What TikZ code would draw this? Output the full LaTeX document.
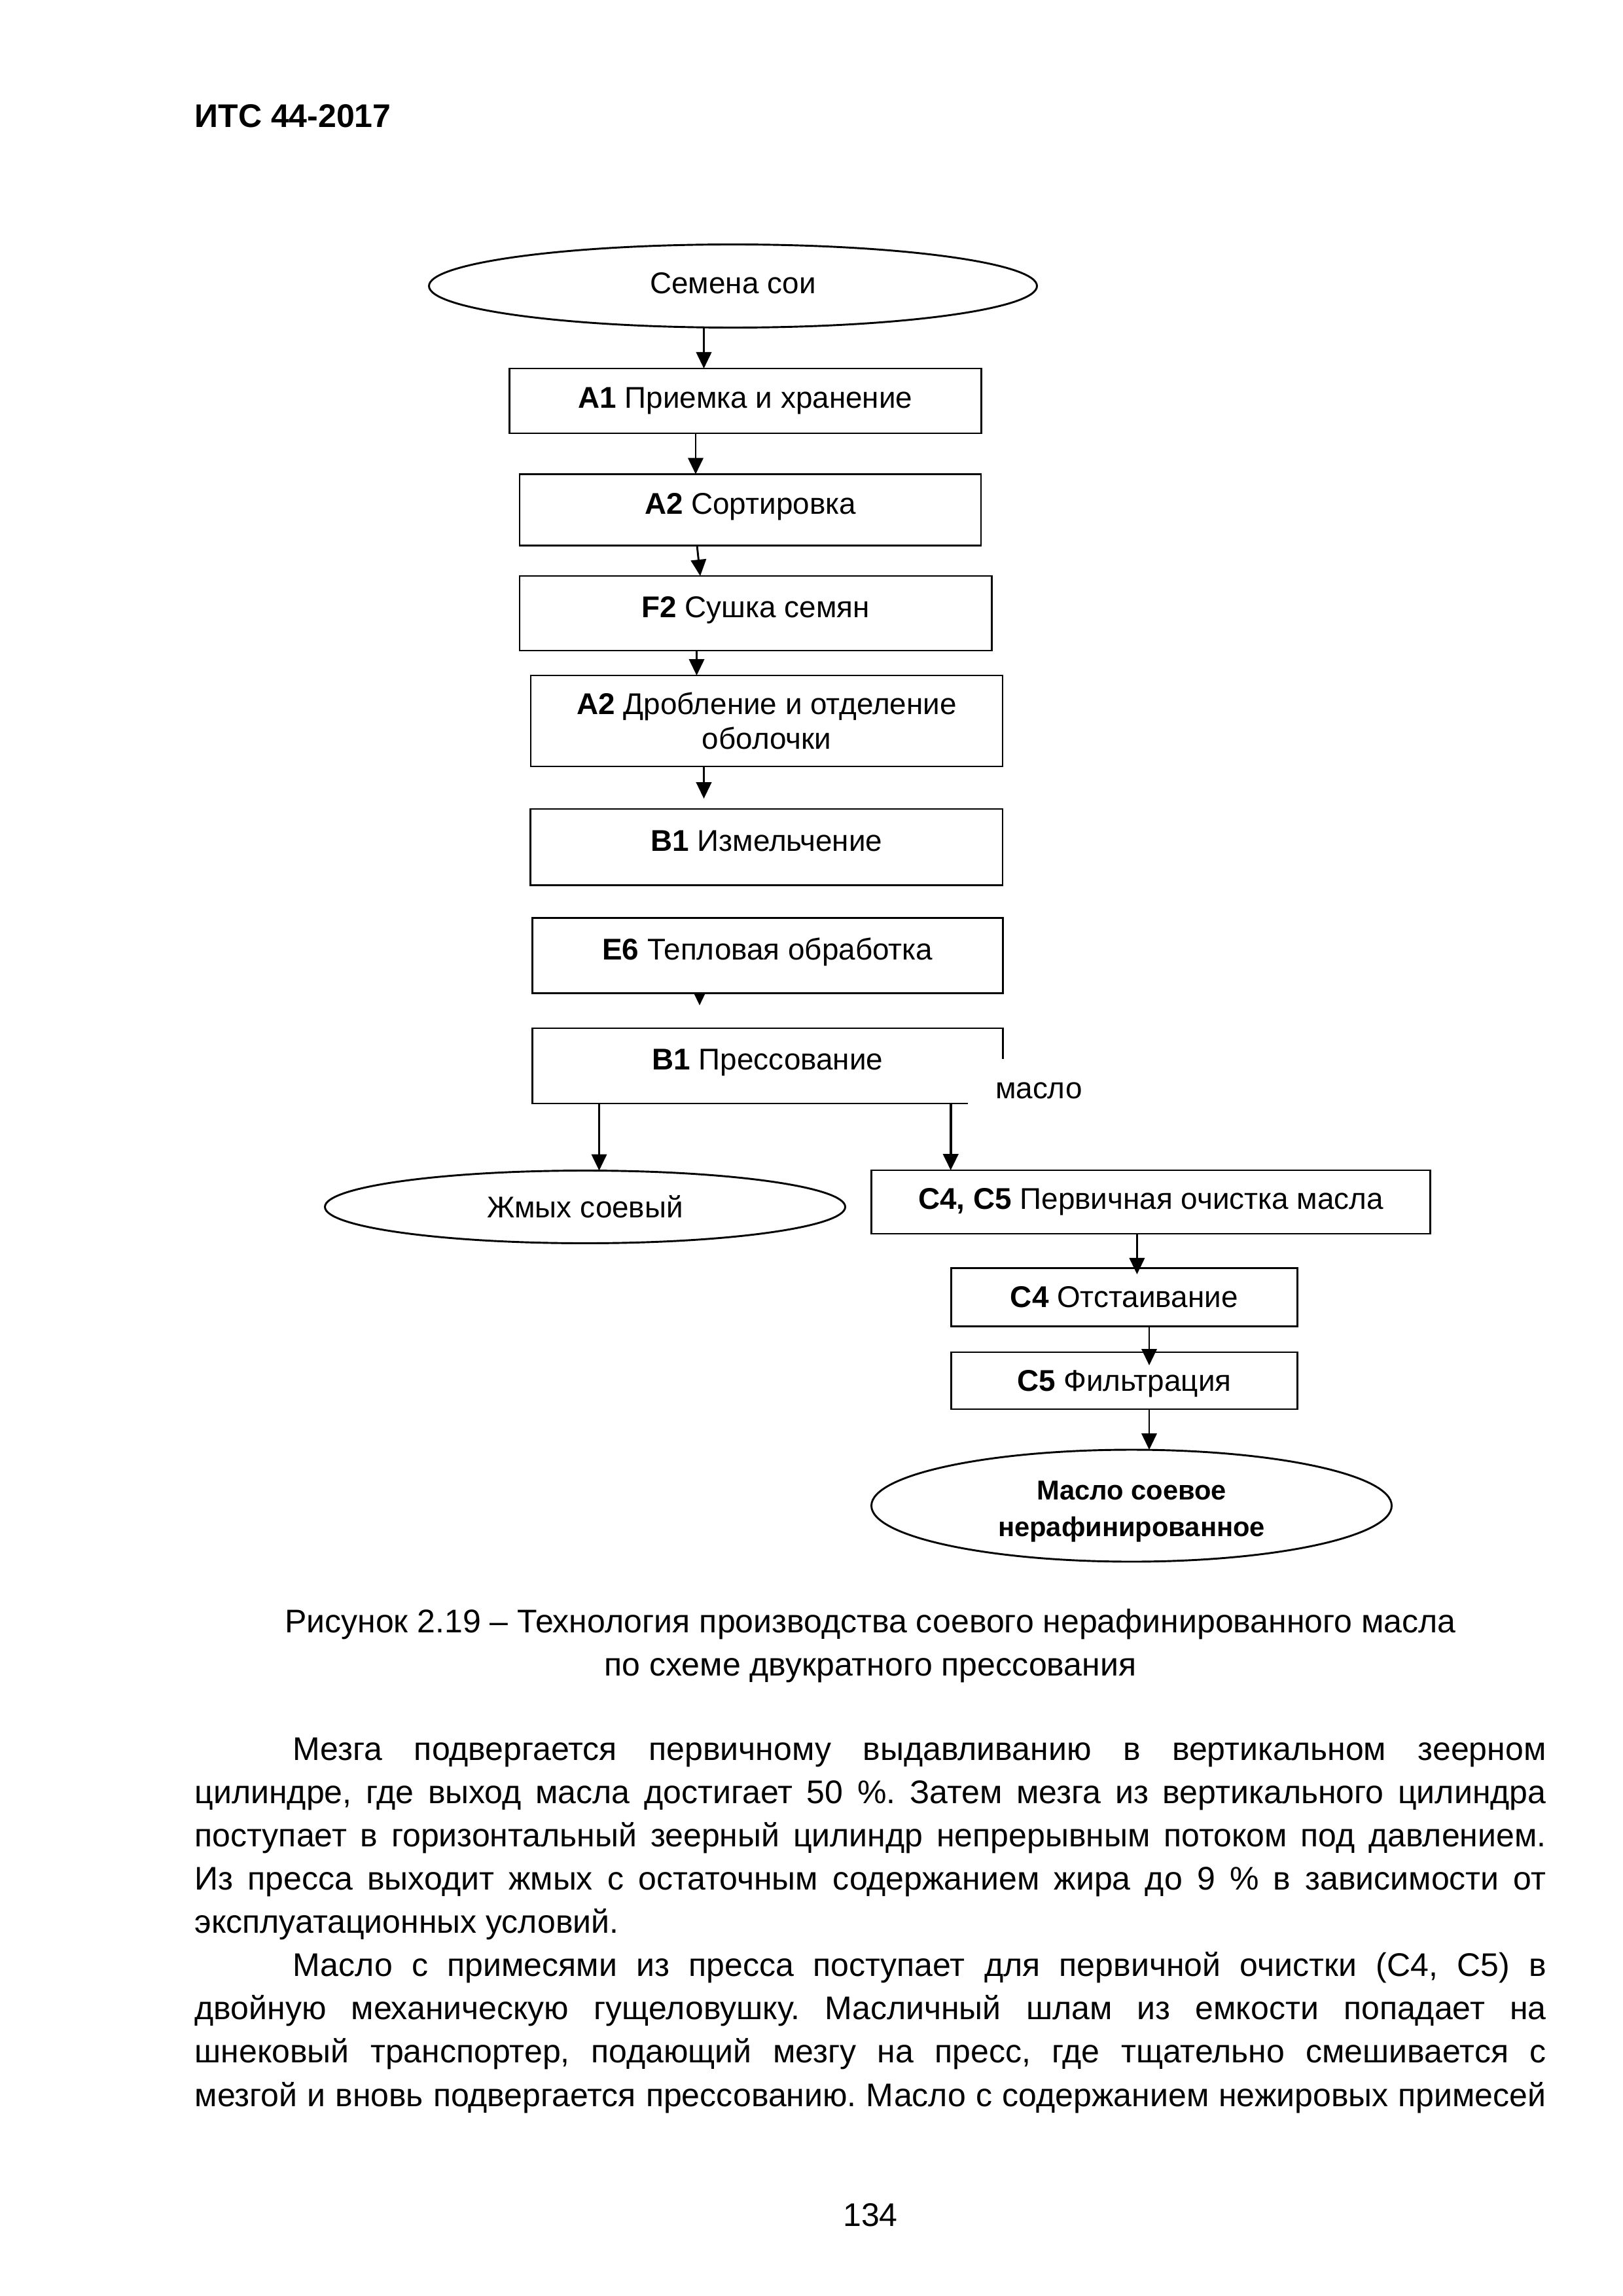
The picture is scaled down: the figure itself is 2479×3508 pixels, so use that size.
\documentclass[tikz,border=0pt]{standalone}
\usepackage{fontspec}
\setmainfont{Liberation Sans}
\usetikzlibrary{shapes.geometric,arrows.meta,calc}
\begin{document}
\begin{tikzpicture}[x=0.24pt,y=-0.24pt,
  every node/.style={inner sep=0pt, outer sep=0pt},
  sz/.style 2 args={minimum width=#1*0.24pt, minimum height=#2*0.24pt},
  proc/.style={draw, line width=0.7pt, rectangle, font=\fontsize{11}{12.65}\selectfont, align=center},
  upper/.style={text height=8pt, text depth=5pt},
  term/.style={draw, line width=0.7pt, ellipse, font=\fontsize{11}{12.65}\selectfont, align=center},
  arr/.style={line width=0.7pt, -{Triangle[length=6pt,width=5.6pt]}},
  stub/.style={line width=0.7pt, -{Triangle[length=4.4pt,width=4pt]}},
  txt/.style={font=\fontsize{12}{15.87}\selectfont},
]
\fill[white] (0,0) rectangle (2479,3508);
\useasboundingbox (0,0) rectangle (2479,3508);

% header
\node[txt, anchor=base west, font=\fontsize{12}{14}\selectfont\bfseries] (hdr) at (297.6,195) {ИТС 44-2017};

% flowchart
\node[term, sz={929}{127}, text height=7.9pt, text depth=2.4pt] (seeds) at (1120,437) {Семена сои};
\node[proc, sz={720.5}{99}] (a1) at (1138.8,612.5) {\textbf{A1} Приемка и хранение};
\node[proc, upper, sz={705}{108.5}] (a2s) at (1146.5,778.8) {\textbf{A2} Сортировка};
\node[proc, upper, sz={721.6}{114}] (f2) at (1154.8,937) {\textbf{F2} Сушка семян};
\node[proc, sz={721}{139}] (a2b) at (1171.5,1101.5) {\textbf{A2} Дробление и отделение\\оболочки};
\node[proc, upper, sz={721.4}{116.6}] (b1i) at (1171.3,1294.3) {\textbf{B1} Измельчение};
\node[proc, upper, sz={718.3}{115.5}] (e6) at (1172.9,1459.8) {\textbf{E6} Тепловая обработка};
\node[proc, draw=none, upper, sz={718.3}{115}] (press) at (1172.9,1628.5) {\textbf{B1} Прессование};
\draw[line width=0.7pt] ($(press.north east)+(0,47)$) -- (press.north east) -- (press.north west)
  -- (press.south west) -- ($(press.south east)+(-53,0)$);
\node[anchor=base west, font=\fontsize{11}{12.65}\selectfont] (maslo) at (1521,1678) {масло};
\node[term, sz={795}{111}] (zh) at (894,1844) {Жмых соевый};
\node[proc, sz={854}{97}] (c45) at (1758.6,1836.5) {\textbf{C4, C5} Первичная очистка масла};
\node[proc, sz={529.5}{88.5}] (c4) at (1717.8,1982) {\textbf{C4} Отстаивание};
\node[proc, sz={529.5}{87}, text height=10pt, text depth=2.3pt] (c5) at (1717.8,2109.5) {\textbf{C5} Фильтрация};
\node[term, sz={795}{171}] (oil) at (1729,2300.5) {};
\node[font=\fontsize{10}{13.4}\selectfont\bfseries, align=center] (oiltxt) at ($(oil.center)+(0,9)$) {Масло соевое\\нерафинированное};

% connectors
\draw[arr] (1075.5,0 |- seeds.south) -- (1075.5,0 |- a1.north);
\draw[arr] (1063,0 |- a1.south) -- (1063,0 |- a2s.north);
\draw[arr] (1065,0 |- a2s.south) -- (1070,0 |- f2.north);
\draw[arr] (1064.5,0 |- f2.south) -- (1064.5,0 |- a2b.north);
\draw[arr, shorten >=3.8pt] (1075.5,0 |- a2b.south) -- (1075.5,0 |- b1i.north);
\coordinate (e6tip) at ($(1069,0 |- e6.south)+(0,18.5)$);
\draw[stub] (1069,0 |- e6.south) -- (e6tip);
\draw[arr] (915.5,0 |- press.south) -- (915.5,0 |- zh.north);
\draw[arr, line width=0.9pt] (1452.7,0 |- press.south) -- (1452.7,0 |- c45.north);
\draw[arr, shorten >=-2.2pt] (1737.4,0 |- c45.south) -- (1737.4,0 |- c4.north);
\draw[arr, shorten >=-4.8pt] (1756,0 |- c4.south) -- (1756,0 |- c5.north);
\draw[arr] (1756,0 |- c5.south) -- (1756,0 |- oil.north);

% caption
\node[txt, anchor=base] (cap1) at (1330,2494) {Рисунок 2.19 – Технология производства соевого нерафинированного масла};
\node[txt, anchor=base] (cap2) at (1330,2560) {по схеме двукратного прессования};

% body text
\node[anchor=base west] (body) at (297.6,2689) {\parbox[t]{495.6pt}{%
\fontsize{12}{15.87}\selectfont\frenchspacing
\setlength\parindent{36pt}\tolerance=10000\hbadness=10000\hyphenpenalty=10000\exhyphenpenalty=10000%
Мезга подвергается первичному выдавливанию в вертикальном зеерном\linebreak
цилиндре, где выход масла достигает 50 \%. Затем мезга из вертикального цилиндра\linebreak
поступает в горизонтальный зеерный цилиндр непрерывным потоком под давлением.\linebreak
Из пресса выходит жмых с остаточным содержанием жира до 9 \% в зависимости от\linebreak
эксплуатационных условий.\par
Масло с примесями из пресса поступает для первичной очистки (С4, С5) в\linebreak
двойную механическую гущеловушку. Масличный шлам из емкости попадает на\linebreak
шнековый транспортер, подающий мезгу на пресс, где тщательно смешивается с\linebreak
мезгой и вновь подвергается прессованию. Масло с содержанием нежировых примесей{\parfillskip=0pt\par}}};

% page number
\node[txt, anchor=base] (pnum) at (1330,3401) {134};
\end{tikzpicture}
\end{document}
